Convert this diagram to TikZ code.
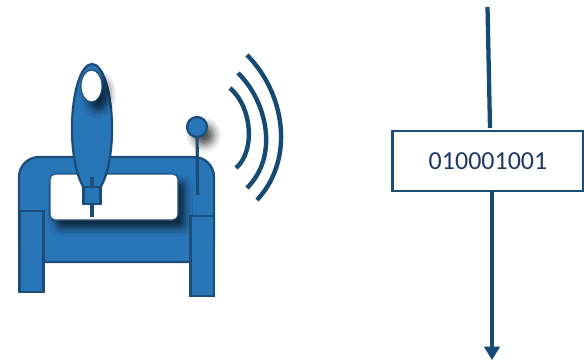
\documentclass[tikz,border=0pt]{standalone}
\usepackage{fontspec}
\setmainfont{Carlito}
\usetikzlibrary{arrows.meta}
\usetikzlibrary{shadows.blur}
\definecolor{blue}{RGB}{40,117,184}
\definecolor{navy}{RGB}{28,76,120}
\definecolor{wave}{RGB}{21,74,115}
\definecolor{ink}{RGB}{32,56,100}
\tikzset{
    part/.style={draw=navy, fill=blue, line width=1.7pt},
    hole/.style={draw=navy, fill=white, line width=0.8pt},
    rod/.style={draw=navy, line width=2.4pt},
    wavearc/.style={draw=wave, line width=3.3pt},
    link/.style={draw=wave, line width=3.2pt},
    castshadow/.style={blur shadow={shadow xshift=5pt, shadow yshift=-6pt, shadow blur radius=6pt, shadow opacity=70}}
}
\begin{document}
\begin{tikzpicture}[x=0.75pt, y=-0.75pt]
\useasboundingbox (0,0) rectangle (584,360);

% --- frame ---
\draw[part, rounded corners=15pt] (19,262) -- (19,157) -- (214,157) -- (214,262) -- cycle;
\draw[hole, rounded corners=4pt, castshadow] (50,174) rectangle (178,220);
\draw[part] (19.5,211) rectangle (43.5,292);
\draw[part] (190.5,216) rectangle (214,296);

% --- head ---
\draw[part] (92,128.5) ellipse (20 and 64.5);
\draw[hole, castshadow] (91.5,86) ellipse (10.5 and 16);
\draw[rod, line width=3.5pt] (92,177) -- (92,217);
\draw[part] (83.5,187) rectangle (100.5,204);

% --- antenna ---
\node[part, circle, inner sep=0pt, minimum size=15pt, castshadow] (knob) at (197,127) {};
\coordinate (stemend) at (197.5,195);
\draw[rod] (knob) -- (stemend);

% --- waves ---
\foreach \name/\ax/\ay/\bx/\by/\cx/\cy/\dx/\dy in {
    inner/230/88/253/108/255/152/236/168,
    middle/238/73/266/100/280/155/247/188,
    outer/247/55/284/92/296/158/257/200
} {
    \coordinate (\name a) at (\ax,\ay);
    \coordinate (\name b) at (\dx,\dy);
    \draw[wavearc] (\name a) .. controls (\bx,\by) and (\cx,\cy) .. (\name b);
}

% --- bit stream ---
\node[draw=navy, fill=white, line width=1.9pt, minimum width=143pt, minimum height=45pt, inner sep=0pt, font=\fontsize{19.5pt}{22pt}\selectfont, text=ink] (bits) at (488,161) {010001001};
\coordinate (infeed) at (487.5,7);
\coordinate (intail) at (490,128);
\coordinate (outtail) at (492,191);
\coordinate (outfeed) at (492,360);
\draw[link] (infeed) -- (intail);
\draw[link, line width=3.7pt, -{Triangle[length=10pt, width=11.5pt]}] (outtail) -- (outfeed);
\end{tikzpicture}
\end{document}
